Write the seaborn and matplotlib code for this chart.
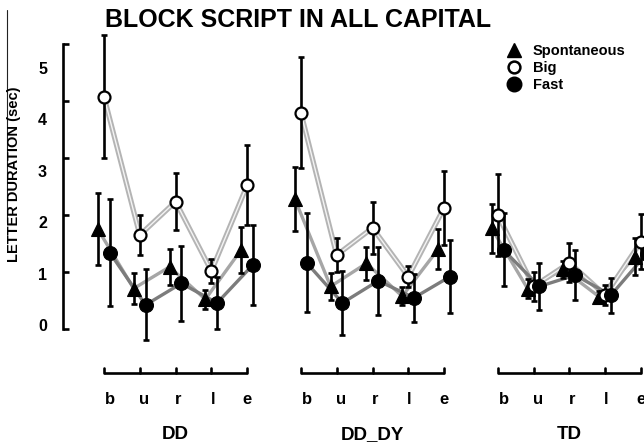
import numpy as np
import pandas as pd
import matplotlib
matplotlib.use("Agg")
import matplotlib.pyplot as plt
import matplotlib.patheffects as pe
from matplotlib.lines import Line2D
import seaborn as sns

# ---------------- data ----------------
groups = ["DD", "DD_DY", "TD"]
letters = ["b", "u", "r", "l", "e"]
conditions = ["Spontaneous", "Big", "Fast"]

dd_spont = [1.86, 0.71, 1.13, 0.50, 1.46]
dd_spont_err = [0.70, 0.30, 0.35, 0.18, 0.44]
dd_big = [4.44, 1.75, 2.40, 1.05, 2.72]
dd_big_err = [1.20, 0.39, 0.56, 0.23, 0.78]
dd_fast = [1.41, 0.39, 0.81, 0.43, 1.17]
dd_fast_err = [1.05, 0.69, 0.73, 0.50, 0.78]

dddy_spont = [2.45, 0.75, 1.20, 0.56, 1.47]
dddy_spont_err = [0.63, 0.27, 0.32, 0.17, 0.39]
dddy_big = [4.13, 1.36, 1.89, 0.94, 2.28]
dddy_big_err = [1.08, 0.33, 0.51, 0.21, 0.72]
dddy_fast = [1.21, 0.43, 0.86, 0.53, 0.94]
dddy_fast_err = [0.96, 0.63, 0.66, 0.47, 0.71]

td_spont = [1.88, 0.71, 1.08, 0.55, 1.33]
td_spont_err = [0.47, 0.18, 0.16, 0.12, 0.36]
td_big = [2.14, 0.75, 1.21, 0.58, 1.62]
td_big_err = [0.80, 0.28, 0.38, 0.20, 0.54]
td_fast = [1.46, 0.75, 0.97, 0.58, 1.39]
td_fast_err = [0.71, 0.46, 0.49, 0.34, 0.53]

yticks = [0, 1, 2, 3, 4, 5]

values = {
    "DD": {"Spontaneous": (dd_spont, dd_spont_err), "Big": (dd_big, dd_big_err), "Fast": (dd_fast, dd_fast_err)},
    "DD_DY": {"Spontaneous": (dddy_spont, dddy_spont_err), "Big": (dddy_big, dddy_big_err), "Fast": (dddy_fast, dddy_fast_err)},
    "TD": {"Spontaneous": (td_spont, td_spont_err), "Big": (td_big, td_big_err), "Fast": (td_fast, td_fast_err)},
}

# ---------------- layout / style ----------------
group_step = 5.5
dodge = {"Spontaneous": -0.17, "Big": 0.0, "Fast": 0.16}

rows = []
for gi, g in enumerate(groups):
    for c in conditions:
        m, e = values[g][c]
        for li, l in enumerate(letters):
            rows.append({"group": g, "letter": l, "condition": c,
                         "mean": m[li], "err": e[li],
                         "x": gi * group_step + li + dodge[c]})
df = pd.DataFrame(rows)

sns.set_style("white")
plt.rcParams["font.family"] = ["Liberation Sans", "DejaVu Sans"]
plt.rcParams["text.color"] = "black"
plt.rcParams["axes.labelcolor"] = "black"
plt.rcParams["xtick.color"] = "black"
plt.rcParams["ytick.color"] = "black"

W, H = 644, 443
fig = plt.figure(figsize=(W / 100, H / 100), dpi=100)
ax_left, ax_right, ax_top, ax_bot = 63, 644, 20, 373
ax = fig.add_axes([ax_left / W, (H - ax_bot) / H, (ax_right - ax_left) / W, (ax_bot - ax_top) / H])

# pixel mapping: x_px = 104 + 35.8*x ; y_px = 325 - 51.4*v
ax.set_xlim((ax_left - 104) / 35.8, (ax_right - 104) / 35.8)
ax.set_ylim((325 - ax_bot) / 51.4, (325 - ax_top) / 51.4)

line_colors = {"Spontaneous": "#a6a6a6", "Big": "#f4f4f4", "Fast": "#7c7c7c"}
for c in conditions:
    sub = df[df.condition == c]
    n0 = len(ax.lines)
    sns.lineplot(data=sub, x="x", y="mean", units="group", estimator=None,
                 color=line_colors[c], linewidth=2.4 if c != "Big" else 1.0,
                 sort=False, legend=False, ax=ax, zorder=1)
    if c == "Big":
        for ln in ax.lines[n0:]:
            ln.set_path_effects([pe.Stroke(linewidth=3.8, foreground="#b4b4b4"), pe.Normal()])

for c in conditions:
    sub = df[df.condition == c]
    ax.errorbar(sub["x"], sub["mean"], yerr=sub["err"], fmt="none", ecolor="black",
                elinewidth=1.9, capsize=2.3, capthick=1.9, zorder=2)

marker_style = {
    "Spontaneous": dict(marker="^", ms=9.5, mfc="black", mec="black", mew=0.8),
    "Big": dict(marker="o", ms=8.6, mfc="white", mec="black", mew=1.6),
    "Fast": dict(marker="o", ms=10, mfc="black", mec="black", mew=0.8),
}
for i, c in enumerate(conditions):
    sub = df[df.condition == c]
    ax.plot(sub["x"], sub["mean"], ls="none", zorder=3 + i, **marker_style[c])

# axes decoration
for s in ["top", "right", "bottom"]:
    ax.spines[s].set_visible(False)
ax.spines["left"].set_linewidth(1.9)
ax.spines["left"].set_color("black")
sp_lo, sp_hi = (325 - 329) / 51.4, (325 - 44) / 51.4
ax.spines["left"].set_bounds(sp_lo, sp_hi)
ax.set_yticks(yticks)
ax.set_yticklabels([str(t) for t in yticks])
ax.set_yticks(np.linspace(sp_lo, sp_hi, 6), minor=True)
ax.tick_params(axis="y", which="both", left=True)
ax.tick_params(axis="y", which="major", length=0, pad=11.5, labelsize=11.5, labelcolor="black")
ax.tick_params(axis="y", which="minor", direction="in", length=4, width=1.9, color="black")
for t in ax.get_yticklabels():
    t.set_fontweight("bold")
ax.set_xticks([])
ax.set_xlabel("")
ax.set_ylabel("")

ybase = ax.get_ylim()[0]
tick_h = 5 / 51.4
label_step = 0.955
label_shift = 0.17
xtr = ax.get_xaxis_transform()
for gi, g in enumerate(groups):
    x0 = gi * group_step
    xs = [x0 + li for li in range(len(letters))]
    ax.plot([xs[0], xs[-1]], [ybase, ybase], color="black", lw=1.9, clip_on=False,
            solid_capstyle="butt", zorder=5)
    for li, (xx, l) in enumerate(zip(xs, letters)):
        ax.plot([xx, xx], [ybase, ybase + tick_h], color="black", lw=1.9, clip_on=False, zorder=5)
        ax.text(x0 + li * label_step + label_shift, (ax_bot - 404) / (ax_bot - ax_top), l,
                transform=xtr, ha="center", va="baseline", fontsize=12, fontweight="bold",
                clip_on=False)
    ax.text(x0 + 2, (ax_bot - 439) / (ax_bot - ax_top), g, transform=xtr,
            ha="center", va="baseline", fontsize=13.5, fontweight="bold", clip_on=False)

# y label
fig.text(14 / W, 1 - 174 / H, "LETTER DURATION (sec)", rotation=90, ha="center", va="center",
         fontsize=10.5, fontweight="bold")
fig.add_artist(Line2D([7 / W, 7 / W], [1 - 10 / H, 1 - 222 / H], color="#222222", lw=0.8))

# title
fig.text(298 / W, 1 - 27 / H, "BLOCK SCRIPT IN ALL CAPITAL", ha="center", va="baseline",
         fontsize=18, fontweight="bold")

# legend
handles = [
    Line2D([], [], ls="none", marker="^", ms=10, color="black"),
    Line2D([], [], ls="none", marker="o", ms=8.5, mfc="white", mec="black", mew=1.8),
    Line2D([], [], ls="none", marker="o", ms=10.5, color="black"),
]
ax.legend(handles, conditions, loc="upper left", bbox_to_anchor=(508 / W, 1 - 44 / H),
          bbox_transform=fig.transFigure, frameon=False, handlelength=0.8, handletextpad=0.9,
          labelspacing=0.22, borderaxespad=0, borderpad=0,
          prop={"weight": "bold", "size": 10.5})

fig.savefig("out.png", dpi=100)
